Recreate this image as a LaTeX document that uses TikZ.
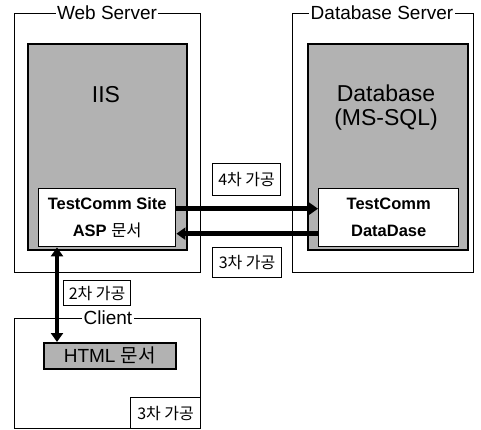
\documentclass[tikz,border=0pt]{standalone}
\usepackage{fontspec}
\setmainfont{Liberation Sans}
\newfontfamily\kr{Noto Sans CJK KR}
\usetikzlibrary{arrows.meta}
\tikzset{
  frame/.style={draw, line width=1.2pt, rectangle, anchor=north west, inner sep=0pt},
  graybox/.style={draw, line width=1.6pt, fill=black!30, rectangle, anchor=north west, inner sep=0pt},
  whitebox/.style={draw, line width=1.4pt, fill=white, rectangle, anchor=north west, inner sep=0pt, align=center, font=\bfseries\fontsize{16.5}{27}\selectfont},
  title/.style={fill=white, inner sep=1.5pt, font=\fontsize{19}{19}\selectfont},
  big/.style={font=\fontsize{23}{24}\selectfont, align=center},
  tag/.style={draw, line width=1.2pt, fill=white, rectangle, anchor=north west, inner sep=0pt, font=\kr\fontsize{16}{16}\selectfont},
  flow/.style={line width=4.5pt, -{Triangle[length=9pt,width=12pt]}},
  dflow/.style={line width=4.5pt, {Triangle[length=9pt,width=12pt]}-{Triangle[length=9pt,width=12pt]}}
}
\begin{document}
\begin{tikzpicture}[x=1pt,y=-1pt]
\useasboundingbox (0,0) rectangle (481,430);
% Web server
\node[frame, minimum width=186pt, minimum height=259pt] (web) at (14,13) {};
\node[title] (webt) at (107,13) {Web Server};
\node[graybox, minimum width=159pt, minimum height=206pt] (iis) at (27,43) {};
\node[big] (iist) at (106,95) {IIS};
\node[whitebox, minimum width=137pt, minimum height=58pt] (site) at (38,188) {TestComm Site\\ASP {\kr\mdseries 문서}};
% Database server
\node[frame, minimum width=181pt, minimum height=259pt] (dbs) at (292,13) {};
\node[title] (dbst) at (382,13) {Database Server};
\node[graybox, minimum width=160pt, minimum height=206pt] (dbg) at (307,43) {};
\node[big] (dbt) at (386,108) {Database\\(MS-SQL)};
\node[whitebox, minimum width=140pt, minimum height=58pt] (db) at (318,188) {TestComm\\DataDase};
% Client
\node[frame, minimum width=186pt, minimum height=110pt] (cli) at (14,318) {};
\node[title] (clit) at (108,318) {Client};
\node[graybox, minimum width=132pt, minimum height=26pt, font=\fontsize{19}{19}\selectfont] (html) at (43,342) {HTML {\kr 문서}};
% tags
\node[tag, minimum width=68pt, minimum height=32pt] (t4) at (212,163) {4차 가공};
\node[tag, minimum width=69pt, minimum height=30pt] (t3a) at (212,247) {3차 가공};
\node[tag, minimum width=67pt, minimum height=25pt] (t2) at (63,280) {2차 가공};
\node[tag, minimum width=70pt, minimum height=31pt] (t3b) at (130,397) {3차 가공};
% arrows
\draw[flow] ([yshift=9pt]site.east) -- ([yshift=9pt]db.west);
\draw[flow] ([yshift=-16pt]db.west) -- ([yshift=-16pt]site.east);
\draw[dflow] ([xshift=19pt]site.south west) -- ([xshift=14pt]html.north west);
\end{tikzpicture}
\end{document}
